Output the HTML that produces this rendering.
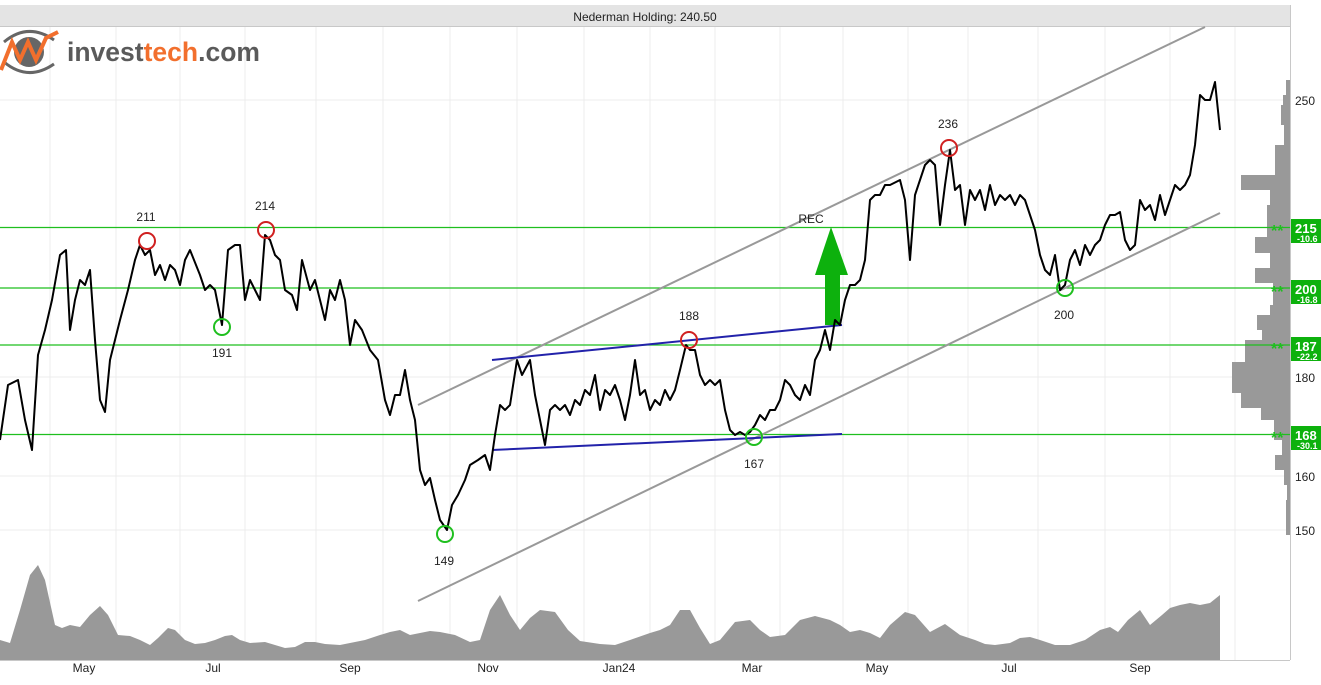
<!DOCTYPE html>
<html><head><meta charset="utf-8"><style>
body{margin:0;background:#fff;width:1321px;height:680px;overflow:hidden;font-family:"Liberation Sans",sans-serif}
</style></head><body>
<svg width="1321" height="680" viewBox="0 0 1321 680" xmlns="http://www.w3.org/2000/svg" font-family="Liberation Sans, sans-serif">
<rect x="0" y="5" width="1290" height="21" fill="#e4e4e4"/>
<line x1="0" y1="26.5" x2="1290" y2="26.5" stroke="#c8c8c8"/>
<text x="645" y="21" font-size="12" text-anchor="middle" fill="#222">Nederman Holding: 240.50</text>
<g stroke="#ececec" stroke-width="1">
<line x1="50" y1="27" x2="50" y2="660"/><line x1="116" y1="27" x2="116" y2="660"/><line x1="180" y1="27" x2="180" y2="660"/><line x1="245" y1="27" x2="245" y2="660"/><line x1="316" y1="27" x2="316" y2="660"/><line x1="383" y1="27" x2="383" y2="660"/><line x1="450" y1="27" x2="450" y2="660"/><line x1="517" y1="27" x2="517" y2="660"/><line x1="584" y1="27" x2="584" y2="660"/><line x1="650" y1="27" x2="650" y2="660"/><line x1="715" y1="27" x2="715" y2="660"/><line x1="780" y1="27" x2="780" y2="660"/><line x1="843" y1="27" x2="843" y2="660"/><line x1="908" y1="27" x2="908" y2="660"/><line x1="968" y1="27" x2="968" y2="660"/><line x1="1038" y1="27" x2="1038" y2="660"/><line x1="1105" y1="27" x2="1105" y2="660"/><line x1="1170" y1="27" x2="1170" y2="660"/><line x1="1235" y1="27" x2="1235" y2="660"/>
<line x1="0" y1="100" x2="1290" y2="100"/><line x1="0" y1="377" x2="1290" y2="377"/><line x1="0" y1="476" x2="1290" y2="476"/><line x1="0" y1="530" x2="1290" y2="530"/>
</g>
<!-- logo -->
<g>
<path d="M4 42 Q28 22 54 40" stroke="#666" stroke-width="3" fill="none"/>
<path d="M4 62 Q28 82 54 64" stroke="#666" stroke-width="3" fill="none"/>
<circle cx="29" cy="52" r="15" fill="#666"/>
<path d="M1 70 L12 42 L20 60 L28 42 L36 60 L46 38 L58 32" stroke="#f26f2d" stroke-width="4" fill="none"/>
<text x="67" y="61" font-size="27" font-weight="bold" fill="#5a5a5a" textLength="193" lengthAdjust="spacingAndGlyphs">invest<tspan fill="#f26f2d">tech</tspan>.com</text>
</g>
<!-- volume -->
<path fill="#999" d="M0 660 L0 640 L10 643 L20 610 L30 575 L38 565 L45 580 L55 625 L62 628 L70 625 L80 627 L90 615 L100 606 L108 615 L118 635 L130 636 L140 640 L150 645 L158 638 L168 628 L175 630 L185 640 L195 644 L205 643 L215 640 L225 636 L232 635 L240 640 L250 643 L265 642 L275 645 L285 648 L295 647 L305 642 L315 642 L325 644 L340 645 L350 643 L365 640 L380 635 L390 632 L400 630 L410 635 L420 633 L430 631 L440 632 L455 635 L470 642 L480 640 L490 610 L500 595 L510 615 L520 630 L530 618 L540 610 L555 612 L568 630 L580 641 L600 644 L615 645 L630 640 L650 633 L660 630 L670 625 L680 610 L690 610 L700 628 L710 644 L720 640 L735 622 L750 620 L760 630 L770 637 L785 635 L800 620 L815 616 L830 620 L840 625 L850 632 L860 630 L870 633 L880 638 L890 625 L905 612 L915 615 L930 632 L945 624 L960 635 L975 640 L985 644 L995 645 L1010 643 L1020 638 L1030 637 L1040 640 L1055 645 L1070 645 L1085 640 L1100 630 L1110 627 L1118 632 L1128 620 L1140 610 L1150 625 L1162 615 L1170 608 L1180 605 L1190 603 L1200 605 L1210 603 L1220 595 L1220 660 Z"/>
<!-- histogram -->
<path fill="#999" d="M1290 80 L1286 80 L1286 95 L1283 95 L1283 105 L1281 105 L1281 125 L1284 125 L1284 145 L1275 145 L1275 175 L1241 175 L1241 190 L1270 190 L1270 205 L1267 205 L1267 237 L1255 237 L1255 253 L1270 253 L1270 268 L1255 268 L1255 283 L1273 283 L1273 305 L1270 305 L1270 315 L1257 315 L1257 330 L1262 330 L1262 340 L1245 340 L1245 362 L1232 362 L1232 393 L1241 393 L1241 408 L1261 408 L1261 420 L1274 420 L1274 440 L1282 440 L1282 455 L1275 455 L1275 470 L1284 470 L1284 485 L1287 485 L1287 500 L1286 500 L1286 535 L1290 535 Z"/>
<line x1="1290.5" y1="5" x2="1290.5" y2="660" stroke="#c8c8c8"/>
<line x1="0" y1="660.5" x2="1290" y2="660.5" stroke="#c8c8c8"/>
<g stroke="#1fbf1f" stroke-width="1.3">
<line x1="0" y1="227.5" x2="1290" y2="227.5"/><line x1="0" y1="288" x2="1290" y2="288"/><line x1="0" y1="345" x2="1290" y2="345"/><line x1="0" y1="434.5" x2="1290" y2="434.5"/>
</g>
<g fill="#1fbf1f" font-size="16" font-weight="bold"><text x="1271" y="236">**</text><text x="1271" y="297">**</text><text x="1271" y="354">**</text><text x="1271" y="443">**</text></g>
<g fill="#0db10d"><rect x="1291" y="219" width="30" height="24"/><rect x="1291" y="280" width="30" height="24"/><rect x="1291" y="337" width="30" height="24"/><rect x="1291" y="426" width="30" height="24"/></g>
<g fill="#fff" font-weight="bold"><text x="1295" y="233" font-size="13">215</text><text x="1297" y="242" font-size="9">-10.6</text><text x="1295" y="294" font-size="13">200</text><text x="1297" y="303" font-size="9">-16.8</text><text x="1295" y="351" font-size="13">187</text><text x="1297" y="360" font-size="9">-22.2</text><text x="1295" y="440" font-size="13">168</text><text x="1297" y="449" font-size="9">-30.1</text></g>
<g font-size="12" fill="#222"><text x="1295" y="105">250</text><text x="1295" y="382">180</text><text x="1295" y="481">160</text><text x="1295" y="535">150</text></g>
<g stroke="#999" stroke-width="2"><line x1="418" y1="405" x2="1205" y2="27"/><line x1="418" y1="601" x2="1220" y2="213"/></g>
<g stroke="#2222aa" stroke-width="2"><line x1="492" y1="360" x2="842" y2="325"/><line x1="492" y1="450" x2="842" y2="434"/></g>
<path d="M831 227 L848 275 L840 275 L840 325 L825 325 L825 275 L815 275 Z" fill="#0db10d"/>
<text x="811" y="223" font-size="12" text-anchor="middle" fill="#222">REC</text>
<polyline fill="none" stroke="#000" stroke-width="2" stroke-linejoin="round" points="0,440 8,385 18,380 25,420 32,450 38,355 45,330 52,300 60,255 66,250 70,330 75,300 80,280 85,285 90,270 95,340 100,400 105,412 110,360 115,340 120,320 128,290 135,260 140,245 145,255 150,250 155,275 160,265 165,280 170,265 175,270 180,285 185,260 190,250 200,275 205,290 210,285 215,290 222,325 228,250 235,245 240,245 245,300 250,280 255,290 260,300 265,235 270,240 275,255 280,260 285,290 292,295 297,310 302,260 310,290 315,280 320,300 325,320 330,290 335,300 340,280 345,300 350,345 355,320 362,330 370,350 378,360 385,400 390,415 395,395 400,395 405,370 410,400 415,420 420,470 425,485 430,478 435,500 440,520 447,530 452,505 458,495 465,480 470,465 478,460 485,455 490,470 495,435 500,405 505,410 510,405 517,360 522,375 530,360 535,395 540,420 545,445 550,410 555,405 560,410 565,405 570,415 575,400 580,405 585,390 590,395 595,375 600,410 605,390 610,395 615,385 620,400 625,420 630,395 635,360 640,395 645,390 650,410 655,400 660,405 665,390 670,400 675,390 680,370 686,345 690,350 695,350 700,375 705,385 710,380 715,385 720,380 725,410 730,430 735,435 740,432 745,435 750,432 755,425 760,415 765,420 770,410 775,410 780,400 785,380 790,385 795,395 800,400 805,385 810,395 815,360 820,350 825,330 830,350 835,320 840,325 845,300 850,285 855,285 860,280 865,260 870,200 875,195 880,195 885,185 890,185 900,180 905,200 910,260 915,195 920,180 925,165 930,160 935,165 940,225 945,185 950,150 955,190 960,185 965,225 970,190 975,200 980,190 985,210 990,185 995,205 1000,195 1005,200 1010,195 1015,205 1020,195 1025,200 1030,215 1035,230 1040,255 1045,270 1050,275 1055,255 1060,290 1065,285 1070,260 1075,250 1080,265 1085,245 1090,255 1095,245 1100,240 1105,225 1110,215 1115,215 1120,212 1125,240 1130,250 1135,245 1140,200 1145,210 1150,205 1155,220 1160,195 1165,215 1170,200 1175,185 1180,190 1185,185 1190,175 1195,145 1200,95 1205,100 1210,100 1215,82 1220,130"/>
<g fill="none" stroke-width="2">
<circle cx="147" cy="241" r="8" stroke="#d02020"/><circle cx="266" cy="230" r="8" stroke="#d02020"/><circle cx="689" cy="340" r="8" stroke="#d02020"/><circle cx="949" cy="148" r="8" stroke="#d02020"/>
<circle cx="222" cy="327" r="8" stroke="#1fbf1f"/><circle cx="445" cy="534" r="8" stroke="#1fbf1f"/><circle cx="754" cy="437" r="8" stroke="#1fbf1f"/><circle cx="1065" cy="288" r="8" stroke="#1fbf1f"/>
</g>
<g font-size="12" fill="#222" text-anchor="middle">
<text x="146" y="221">211</text><text x="265" y="210">214</text><text x="689" y="320">188</text><text x="948" y="128">236</text>
<text x="222" y="357">191</text><text x="444" y="565">149</text><text x="754" y="468">167</text><text x="1064" y="319">200</text>
</g>
<g font-size="12" fill="#222" text-anchor="middle">
<text x="84" y="672">May</text><text x="213" y="672">Jul</text><text x="350" y="672">Sep</text><text x="488" y="672">Nov</text><text x="619" y="672">Jan24</text><text x="752" y="672">Mar</text><text x="877" y="672">May</text><text x="1009" y="672">Jul</text><text x="1140" y="672">Sep</text>
</g>
</svg>
</body></html>
